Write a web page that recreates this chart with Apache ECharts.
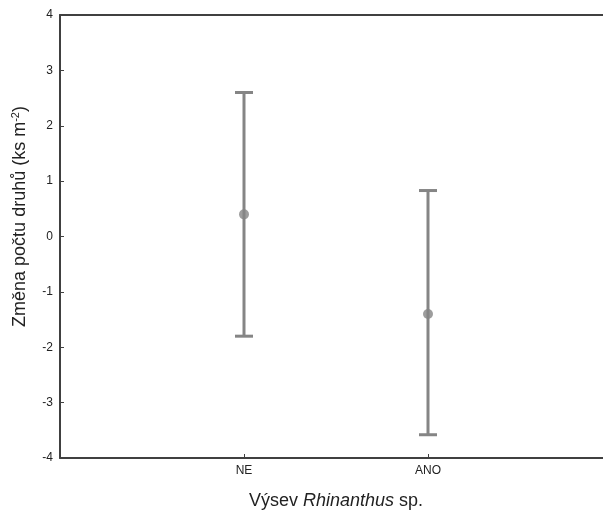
<!DOCTYPE html>
<html>
<head>
<meta charset="utf-8">
<script src="https://cdn.jsdelivr.net/npm/echarts@6/dist/echarts.min.js"></script>
<style>
  html, body { margin: 0; padding: 0; background: #fff; }
  #chart { width: 603px; height: 515px; }
</style>
</head>
<body>
<div id="chart"></div>
<script>
// Sowing treatment groups (padded with empty slots at both ends)
const categories = ['', 'NE', 'ANO', ''];
const groupIndex = [1, 2];
// Mean change in species count and its interval bounds
const means = [0.4, -1.4];
const lower = [-1.8, -3.58];
const upper = [2.6, 0.83];
const yTicks = [-4, -3, -2, -1, 0, 1, 2, 3, 4];

const barColor = '#858585';
const axisColor = '#404040';
const font = '"Liberation Sans", Arial, sans-serif';

const errData = groupIndex.map((g, i) => [g, lower[i], upper[i]]);
const meanData = groupIndex.map((g, i) => [g, means[i]]);

const chart = echarts.init(document.getElementById('chart'));
chart.setOption({
  animation: false,
  backgroundColor: '#fff',
  grid: { left: 60, top: 15, width: 552, height: 443, containLabel: false, outerBoundsMode: 'none' },
  xAxis: [{
    type: 'category',
    data: categories,
    boundaryGap: false,
    axisLine: { onZero: false, lineStyle: { color: axisColor, width: 2 } },
    axisTick: { inside: true, length: 4, lineStyle: { color: axisColor, width: 1 } },
    axisLabel: { color: '#222', fontFamily: font, fontSize: 12, margin: 7 },
    splitLine: { show: false },
    name: '{n|Výsev }{i|Rhinanthus}{n| sp.}',
    nameLocation: 'middle',
    nameGap: 34,
    nameTextStyle: {
      rich: {
        n: { fontFamily: font, fontSize: 18, color: '#222' },
        i: { fontFamily: font, fontSize: 18, fontStyle: 'italic', color: '#222' }
      }
    }
  }, {
    type: 'category',
    data: categories,
    boundaryGap: false,
    position: 'top',
    axisLine: { onZero: false, lineStyle: { color: axisColor, width: 2 } },
    axisTick: { show: false },
    axisLabel: { show: false },
    splitLine: { show: false }
  }],
  yAxis: {
    type: 'value',
    min: yTicks[0],
    max: yTicks[yTicks.length - 1],
    interval: 1,
    axisLine: { show: true, onZero: false, lineStyle: { color: axisColor, width: 2 } },
    axisTick: { show: true, inside: true, length: 4, lineStyle: { color: axisColor, width: 1 } },
    axisLabel: { color: '#222', fontFamily: font, fontSize: 12, margin: 7 },
    splitLine: { show: false },
    name: '{n|Změna počtu druhů (ks m}{s|-2}{n|)}',
    nameLocation: 'middle',
    nameRotate: 90,
    nameGap: 30,
    nameTextStyle: {
      padding: [0, 0, 0, 40],
      rich: {
        n: { fontFamily: font, fontSize: 18, color: '#222' },
        s: { fontFamily: font, fontSize: 11, color: '#222', verticalAlign: 'top', padding: [0, 0, 9, 0] }
      }
    }
  },
  series: [{
    type: 'custom',
    data: errData,
    renderItem: function (params, api) {
      const x = api.value(0);
      const lo = api.coord([x, api.value(1)]);
      const hi = api.coord([x, api.value(2)]);
      const cap = 9;
      const style = { stroke: barColor, lineWidth: 3 };
      return {
        type: 'group',
        children: [
          { type: 'line', shape: { x1: lo[0], y1: lo[1], x2: hi[0], y2: hi[1] }, style: style },
          { type: 'line', shape: { x1: hi[0] - cap, y1: hi[1], x2: hi[0] + cap, y2: hi[1] }, style: style },
          { type: 'line', shape: { x1: lo[0] - cap, y1: lo[1], x2: lo[0] + cap, y2: lo[1] }, style: style }
        ]
      };
    },
    z: 2
  }, {
    type: 'scatter',
    data: meanData,
    symbol: 'circle',
    symbolSize: 10,
    itemStyle: { color: barColor },
    z: 3
  }]
});
</script>
</body>
</html>
